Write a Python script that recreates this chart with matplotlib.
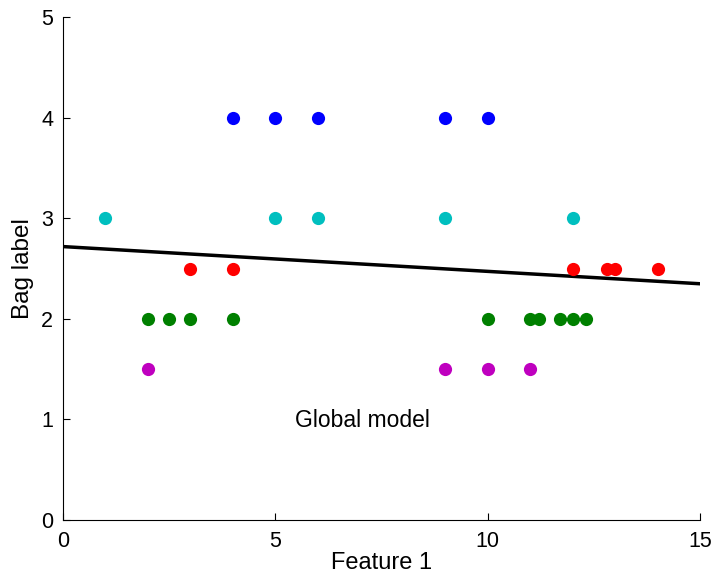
import numpy as np
import matplotlib
matplotlib.use("Agg")
from matplotlib import pyplot as plt

# bag points: (feature, label) per colour
blue_x = [4, 5, 6, 9, 10]
blue_y = [4, 4, 4, 4, 4]
cyan_x = [1, 5, 6, 9, 12]
cyan_y = [3, 3, 3, 3, 3]
red_x = [3, 4, 12, 12.8, 13, 14]
red_y = [2.5, 2.5, 2.5, 2.5, 2.5, 2.5]
green_x = [2, 2.5, 3, 4, 10, 11, 11.2, 11.7, 12, 12.3]
green_y = [2, 2, 2, 2, 2, 2, 2, 2, 2, 2]
magenta_x = [2, 9, 10, 11]
magenta_y = [1.5, 1.5, 1.5, 1.5]

# global model line end points
line_x = [0, 15]
line_y = [2.72, 2.35]

plt.rcParams['font.family'] = ['Liberation Sans', 'DejaVu Sans']

fig = plt.figure(figsize=(7.16, 5.75), dpi=100)
ax = fig.add_axes([0.088, 0.0957, 0.89, 0.874])

ms = 9.5
ax.plot(line_x, line_y, color='k', lw=2.5, zorder=1)
ax.plot(blue_x, blue_y, 'o', color='#0000ff', ms=ms, mec='none')
ax.plot(cyan_x, cyan_y, 'o', color='#00bfbf', ms=ms, mec='none')
ax.plot(red_x, red_y, 'o', color='#ff0000', ms=ms, mec='none')
ax.plot(green_x, green_y, 'o', color='#008000', ms=ms, mec='none')
ax.plot(magenta_x, magenta_y, 'o', color='#bf00bf', ms=ms, mec='none')

ax.text(7.05, 0.99, 'Global model', ha='center', va='center', fontsize=16.5)

ax.set_xlim(0, 15)
ax.set_ylim(0, 5)
ax.set_xticks([0, 5, 10, 15])
ax.set_yticks([0, 1, 2, 3, 4, 5])
ax.spines['top'].set_visible(False)
ax.spines['right'].set_visible(False)
ax.tick_params(direction='in', labelsize=15.5, length=5)
ax.tick_params(axis='x', pad=8)
ax.tick_params(axis='y', pad=7)
ax.set_xlabel('Feature 1', fontsize=17, labelpad=0)
ax.set_ylabel('Bag label', fontsize=17.5, labelpad=5)

fig.savefig('out.png', dpi=100)
